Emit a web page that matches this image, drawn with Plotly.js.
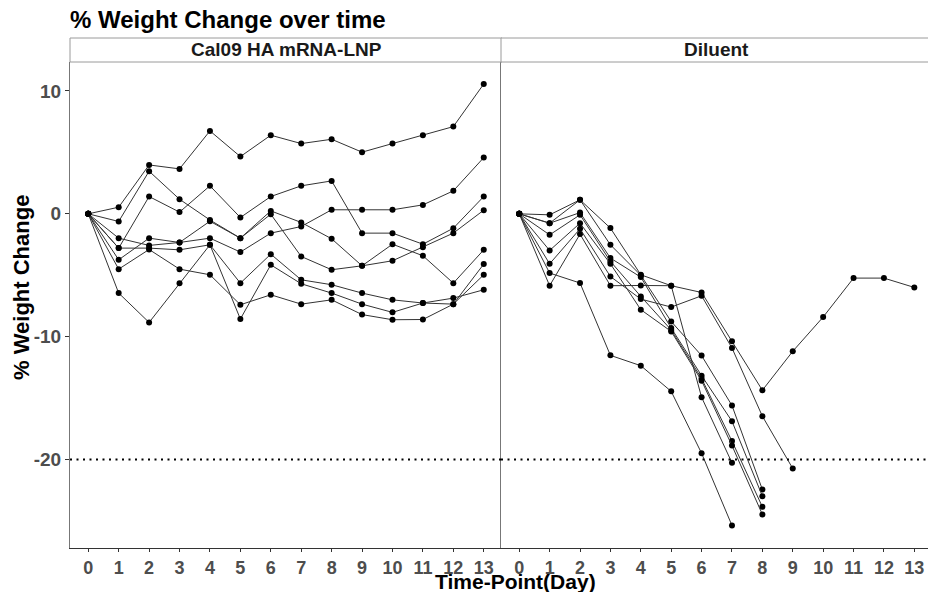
<!DOCTYPE html>
<html>
<head>
<meta charset="utf-8">
<script src="https://cdn.plot.ly/plotly-3.0.1.min.js"></script>
<style>html,body{margin:0;padding:0;background:#fff;}#chart{width:928px;height:592px;}</style>
</head>
<body>
<div id="chart"></div>
<script>
// Days (x categories)
const days = [0,1,2,3,4,5,6,7,8,9,10,11,12,13];
const dayLabels = ["0","1","2","3","4","5","6","7","8","9","10","11","12","13"];
const yTicks = [-20,-10,0,10];
const yTickLabels = ["-20","-10","0","10"];
const threshold = -20;
const panelNames = ["Cal09 HA mRNA-LNP","Diluent"];

// Cal09 HA mRNA-LNP group: % weight change per mouse (days 0..13)
const cal1 = [0, 0.54, 3.98, 3.66, 6.75, 4.66, 6.4, 5.72, 6.07, 5.02, 5.72, 6.4, 7.1, 10.57];
const cal2 = [0, -0.62, 3.47, 1.19, -0.5, -1.98, 0.24, -0.7, -2.03, -4.23, -2.47, -3.41, -5.64, -2.93];
const cal3 = [0, -2.79, 1.41, 0.14, 2.28, -0.3, 1.41, 2.28, 2.68, -1.57, -1.57, -2.47, -1.17, 1.41];
const cal4 = [0, -1.98, -2.57, -2.33, -1.98, -3.11, -1.57, -1.03, 0.33, 0.33, 0.33, 0.73, 1.87, 4.58];
const cal5 = [0, -6.45, -8.84, -5.64, -2.52, -8.56, -4.15, -5.69, -6.45, -7.35, -8.02, -7.26, -6.86, -6.18];
const cal6 = [0, -2.79, -2.79, -2.93, -2.52, -5.64, -3.28, -5.37, -5.77, -6.45, -7.0, -7.26, -7.35, -4.96];
const cal7 = [0, -4.5, -2.9, -4.5, -4.96, -7.4, -6.59, -7.35, -7.0, -8.2, -8.62, -8.6, -7.35, -4.09];
const cal8 = [0, -3.74, -1.98, -2.33, -0.6, -1.98, -0.03, -3.47, -4.55, -4.23, -3.82, -2.71, -1.57, 0.3];

// Diluent group: % weight change per mouse (days 0..last measured)
const dil1 = [0, -5.85, -1.65, -5.85, -5.83, -5.85, -6.4, -10.38, -14.36, -11.19, -8.4, -5.23, -5.23, -5.99];
const dil2 = [0, -4.07, -1.22, -5.1, -6.94, -7.59, -6.67, -10.92, -16.47, -20.73];
const dil3 = [0, -4.82, -5.63, -11.52, -12.36, -14.45, -19.49, -25.37];
const dil4 = [0, -0.08, 1.14, -1.16, -4.96, -5.85, -14.93, -20.27];
const dil5 = [0, -0.76, 1.14, -2.52, -5.0, -8.76, -11.54, -15.6, -22.44];
const dil6 = [0, -0.76, 0.1, -3.6, -5.15, -9.3, -13.17, -16.88, -22.98];
const dil7 = [0, -1.71, -0.08, -3.87, -6.72, -9.45, -13.4, -18.5, -23.85];
const dil8 = [0, -2.98, -0.76, -4.07, -7.8, -9.57, -13.58, -18.86, -24.47];

const calSeries = [cal1, cal2, cal3, cal4, cal5, cal6, cal7, cal8];
const dilSeries = [dil1, dil2, dil3, dil4, dil5, dil6, dil7, dil8];

function mk(vals, xa, ya) {
  return {
    x: days.slice(0, vals.length), y: vals, xaxis: xa, yaxis: ya,
    type: 'scatter', mode: 'lines+markers', showlegend: false, hoverinfo: 'skip',
    line: {color: '#333333', width: 1},
    marker: {color: '#000000', size: 6}
  };
}
const traces = [];
calSeries.forEach(v => traces.push(mk(v, 'x', 'y')));
dilSeries.forEach(v => traces.push(mk(v, 'x2', 'y2')));

const W = 928, H = 592, L = 70, T = 62, B = 44;
const plotW = W - L, plotH = H - T - B;
const leftEnd = (502 - L) / plotW;
const rightStart = (501 - L) / plotW;
const stripH = 24 / plotH;

const SANS = 'Liberation Sans, Arial, sans-serif';
const xTickFont = {family: SANS, size: 18, color: '#4d4d4d', weight: 'bold'};
const yTickFont = {family: SANS, size: 19, color: '#4d4d4d', weight: 'bold'};
const xCommon = {
  tickmode: 'array', tickvals: days, ticktext: dayLabels,
  ticks: 'outside', ticklen: 3, tickwidth: 1, tickcolor: '#333333',
  showgrid: false, zeroline: false, showline: true, linecolor: '#333333', linewidth: 1,
  tickfont: xTickFont, fixedrange: true
};
const layout = {
  width: W, height: H,
  margin: {l: L, r: 0, t: T, b: B, pad: 0},
  paper_bgcolor: '#ffffff', plot_bgcolor: '#ffffff',
  title: {text: '% Weight Change over time', xref: 'container', x: 70 / W, xanchor: 'left',
          yref: 'container', y: 1 - 20 / H, yanchor: 'middle',
          font: {family: SANS, size: 24, color: '#000000', weight: 'bold'}},
  xaxis: Object.assign({}, xCommon, {domain: [0, leftEnd], range: [-0.6, 13.6], anchor: 'y'}),
  xaxis2: Object.assign({}, xCommon, {domain: [rightStart, 1], range: [-0.6, 13.45], anchor: 'y2'}),
  yaxis: {
    domain: [0, 1], range: [-27.2, 12.36], tickmode: 'array', tickvals: yTicks, ticktext: yTickLabels,
    ticks: 'outside', ticklen: 4, tickwidth: 1, tickcolor: '#333333',
    showgrid: false, zeroline: false, showline: true, linecolor: '#777777', linewidth: 1,
    tickfont: yTickFont, anchor: 'x', fixedrange: true
  },
  yaxis2: {
    domain: [0, 1], range: [-27.2, 12.36], matches: 'y', showticklabels: false, ticks: '',
    showgrid: false, zeroline: false, showline: true, linecolor: '#777777', linewidth: 1,
    anchor: 'x2', fixedrange: true
  },
  shapes: [
    {type: 'rect', xref: 'paper', yref: 'paper', x0: 0, x1: leftEnd, y0: 1, y1: 1 + stripH,
     line: {color: '#9a9a9a', width: 1}, fillcolor: '#ffffff'},
    {type: 'rect', xref: 'paper', yref: 'paper', x0: rightStart, x1: 1.01, y0: 1, y1: 1 + stripH,
     line: {color: '#9a9a9a', width: 1}, fillcolor: '#ffffff'},
    {type: 'line', xref: 'x', yref: 'y', x0: -0.6, x1: 13.6, y0: threshold, y1: threshold,
     line: {color: '#000000', width: 2, dash: '2px,4.5px'}},
    {type: 'line', xref: 'x2', yref: 'y2', x0: -0.6, x1: 13.45, y0: threshold, y1: threshold,
     line: {color: '#000000', width: 2, dash: '2px,4.5px'}}
  ],
  annotations: [
    {text: panelNames[0], xref: 'paper', yref: 'paper', x: leftEnd / 2, y: 1 + stripH / 2,
     xanchor: 'center', yanchor: 'middle', showarrow: false,
     font: {family: SANS, size: 19, color: '#1a1a1a', weight: 'bold'}},
    {text: panelNames[1], xref: 'paper', yref: 'paper', x: (716 - L) / plotW, y: 1 + stripH / 2,
     xanchor: 'center', yanchor: 'middle', showarrow: false,
     font: {family: SANS, size: 19, color: '#1a1a1a', weight: 'bold'}},
    {text: 'Time-Point(Day)', xref: 'paper', yref: 'paper', x: (515 - L) / plotW, y: -(581 - (H - B)) / plotH,
     xanchor: 'center', yanchor: 'middle', showarrow: false,
     font: {family: SANS, size: 21, color: '#000000', weight: 'bold'}},
    {text: '% Weight Change', xref: 'paper', yref: 'paper', x: -(L - 21) / plotW, y: 1 - (288 - T) / plotH,
     xanchor: 'center', yanchor: 'middle', textangle: -90, showarrow: false,
     font: {family: SANS, size: 22, color: '#000000', weight: 'bold'}}
  ]
};
Plotly.newPlot('chart', traces, layout, {staticPlot: true, displayModeBar: false});
</script>
</body>
</html>
